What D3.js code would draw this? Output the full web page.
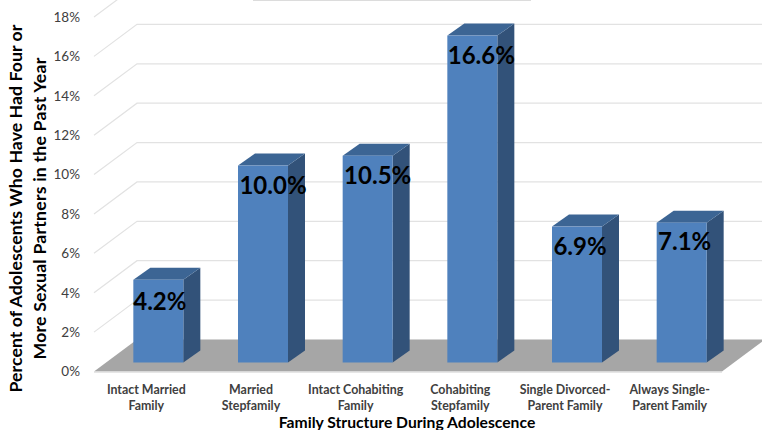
<!DOCTYPE html>
<html>
<head>
<meta charset="utf-8">
<script src="https://cdn.jsdelivr.net/npm/d3@7.9.0/dist/d3.min.js"></script>
<style>
  html, body { margin: 0; padding: 0; background: #fff; }
  svg { display: block; font-family: Lato, "Open Sans", sans-serif; }
</style>
</head>
<body>
<svg width="762" height="430"></svg>
<script>
const categories = [
  ["Intact Married", "Family"],
  ["Married", "Stepfamily"],
  ["Intact Cohabiting", "Family"],
  ["Cohabiting", "Stepfamily"],
  ["Single Divorced-", "Parent Family"],
  ["Always Single-", "Parent Family"],
];
const values = [4.2, 10.0, 10.5, 16.6, 6.9, 7.1];
const valueLabels = ["4.2%", "10.0%", "10.5%", "16.6%", "6.9%", "7.1%"];
const yTicks = [0, 2, 4, 6, 8, 10, 12, 14, 16, 18];
const yTitle = ["Percent of Adolescents Who Have Had Four or", "More Sexual Partners in the Past Year"];
const xTitle = "Family Structure During Adolescence";

// label placement tweaks, the labels aren't centred on the bars in the original
const labelNudge = [1.5, 10, 10, 9, 3, 3];
const labelDrop = [22, 20, 20, 20, 20, 19];

const svg = d3.select("svg");

// fake 3d: front plane of the chart box, back wall is shifted by depth
const depth = { x: 43, y: -32 };
const barDepth = { x: 17, y: -12 };
const barInset = { x: 12, y: -9 };

const x = d3.scaleBand().domain(d3.range(categories.length)).range([94, 722]);
const y = d3.scaleLinear().domain([0, 18]).range([371.5, 17]);
const perPoint = y(0) - y(1);
const barWidth = 50;

// grid on the back + side wall
yTicks.forEach((t) => {
  if (t === 0) return;
  svg.append("path")
    .attr("d", `M${x.range()[0]},${y(t)} L${x.range()[0] + depth.x},${y(t) + depth.y} L762,${y(t) + depth.y}`)
    .attr("fill", "none")
    .attr("stroke", "#e2e2e2")
    .attr("stroke-width", 1.2);
});

// stray line on the top edge of the original
svg.append("line")
  .attr("x1", 253).attr("x2", 531)
  .attr("y1", 0.5).attr("y2", 0.5)
  .attr("stroke", "#dcdcdc");

// floor
const x0 = x.range()[0], x1 = x.range()[1];
svg.append("path")
  .attr("d", `M${x0},${y(0)} L${x0 + depth.x},${y(0) + depth.y} L${x1 + depth.x},${y(0) + depth.y} L${x1},${y(0)} Z`)
  .attr("fill", "#a6a6a6");
svg.append("line")
  .attr("x1", x0).attr("x2", x1)
  .attr("y1", y(0) + 0.7).attr("y2", y(0) + 0.7)
  .attr("stroke", "#dedede")
  .attr("stroke-width", 1.2);

// bars
const bars = svg.append("g").selectAll("g").data(values).join("g");
const left = (i) => x(i) + x.bandwidth() / 2 - barWidth / 2 + barInset.x;
const base = y(0) + barInset.y;

bars.append("path") // side
  .attr("fill", "#325279")
  .attr("d", (d, i) => {
    const r = left(i) + barWidth, t = base - d * perPoint;
    return `M${r},${base} L${r + barDepth.x},${base + barDepth.y} L${r + barDepth.x},${t + barDepth.y} L${r},${t} Z`;
  });
bars.append("path") // top
  .attr("fill", "#3c6594")
  .attr("d", (d, i) => {
    const l = left(i), t = base - d * perPoint;
    return `M${l},${t} L${l + barDepth.x},${t + barDepth.y} L${l + barWidth + barDepth.x},${t + barDepth.y} L${l + barWidth},${t} Z`;
  });
bars.append("rect") // front
  .attr("fill", "#4f81bd")
  .attr("x", (d, i) => left(i))
  .attr("y", (d) => base - d * perPoint)
  .attr("width", barWidth)
  .attr("height", (d) => d * perPoint);

// data labels
svg.append("g").selectAll("text").data(values).join("text")
  .attr("x", (d, i) => left(i) + barWidth / 2 + labelNudge[i])
  .attr("y", (d, i) => base - d * perPoint + labelDrop[i])
  .attr("dy", "0.35em")
  .attr("text-anchor", "middle")
  .attr("font-size", 24)
  .attr("font-weight", 700)
  .attr("fill", "#000")
  .text((d, i) => valueLabels[i]);

// y axis
const yAxis = d3.axisLeft(y).tickValues(yTicks).tickSize(0).tickPadding(0).tickFormat((d) => d + "%");
const yAxisG = svg.append("g").attr("transform", "translate(80,0)").call(yAxis);
yAxisG.select(".domain").remove();
yAxisG.selectAll("text")
  .attr("font-family", "Lato, sans-serif")
  .attr("font-size", 13.5)
  .attr("fill", "#404040");

// category labels
const catLabels = svg.append("g").selectAll("text").data(categories).join("text")
  .attr("text-anchor", "middle")
  .attr("font-size", 12.4)
  .attr("font-weight", 700)
  .attr("fill", "#404040");
catLabels.selectAll("tspan").data((d, i) => d.map((s) => ({ s, i }))).join("tspan")
  .attr("x", (d) => x(d.i) + x.bandwidth() / 2)
  .attr("y", (d, j) => 393.5 + j * 16)
  .text((d) => d.s);

// axis titles
svg.append("text")
  .attr("x", 407).attr("y", 428)
  .attr("text-anchor", "middle")
  .attr("font-size", 15.7)
  .attr("font-weight", 700)
  .attr("fill", "#000")
  .text(xTitle);

yTitle.forEach((line, i) => {
  svg.append("text")
    .attr("transform", `translate(${22 + i * 24},208.5) rotate(-90)`)
    .attr("text-anchor", "middle")
    .attr("font-size", 17.7)
    .attr("letter-spacing", i === 0 ? 0.05 : 0.2)
    .attr("font-weight", 700)
    .attr("fill", "#000")
    .text(line);
});
</script>
</body>
</html>
